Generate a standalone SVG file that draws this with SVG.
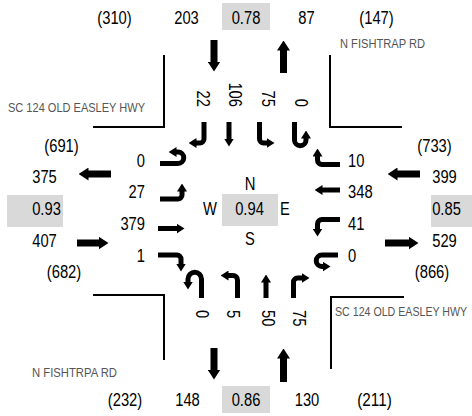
<svg xmlns="http://www.w3.org/2000/svg" width="472" height="416" viewBox="0 0 472 416">
<style>
.n{font-family:"Liberation Sans",Arial,sans-serif;font-size:18px;fill:#000;text-anchor:middle}
.ns{font-family:"Liberation Sans",Arial,sans-serif;font-size:18px;fill:#000;text-anchor:start}
.ne{font-family:"Liberation Sans",Arial,sans-serif;font-size:18px;fill:#000;text-anchor:end}
.st{font-family:"Liberation Sans",Arial,sans-serif;font-size:13.5px;fill:#555}
.box{fill:#d9d9d9}
.cl{fill:none;stroke:#000;stroke-width:2}
.big{fill:none;stroke:#000;stroke-width:7;marker-end:url(#hb)}
.ln{fill:none;stroke:#000;stroke-width:5;marker-end:url(#hl)}
</style>
<defs>
<marker id="hl" markerUnits="userSpaceOnUse" markerWidth="8" markerHeight="10" viewBox="0 0 8 10" refX="0.5" refY="5" orient="auto"><path d="M0,0 L8,5 L0,10 z" fill="#000"/></marker>
<marker id="hb" markerUnits="userSpaceOnUse" markerWidth="10" markerHeight="13" viewBox="0 0 10 13" refX="0.5" refY="6.5" orient="auto"><path d="M0,0 L10,6.5 L0,13 z" fill="#000"/></marker>
</defs>
<rect width="472" height="416" fill="#fff"/>

<g id="corners">
<path class="cl" d="M93,127 H164 V55"/>
<path class="cl" d="M330,55 V127 H402"/>
<path class="cl" d="M93,295 H164 V360"/>
<path class="cl" d="M404,297 H331 V369"/>
<text class="st" x="8" y="112" textLength="137" lengthAdjust="spacingAndGlyphs">SC 124 OLD EASLEY HWY</text>
<text class="st" x="340" y="48" textLength="85" lengthAdjust="spacingAndGlyphs">N FISHTRAP RD</text>
<text class="st" x="32" y="377" textLength="85" lengthAdjust="spacingAndGlyphs">N FISHTRPA RD</text>
<text class="st" transform="translate(335,316) scale(0.8,1)" style="font-size:13.3px">SC 124 OLD EASLEY HWY</text>
</g>

<g id="north">
<rect class="box" x="222" y="3" width="48" height="27"/>
<text class="n" x="114.5" y="24" textLength="34.5" lengthAdjust="spacingAndGlyphs">(310)</text>
<text class="n" x="186.5" y="24" textLength="24.6" lengthAdjust="spacingAndGlyphs">203</text>
<text class="n" x="246" y="24" textLength="28.7" lengthAdjust="spacingAndGlyphs">0.78</text>
<text class="n" x="306.5" y="24" textLength="16.4" lengthAdjust="spacingAndGlyphs">87</text>
<text class="n" x="376.5" y="24" textLength="34.5" lengthAdjust="spacingAndGlyphs">(147)</text>
<text class="ne" transform="translate(197,107) rotate(90)" textLength="16.4" lengthAdjust="spacingAndGlyphs">22</text>
<text class="ne" transform="translate(229,107) rotate(90)" textLength="24.6" lengthAdjust="spacingAndGlyphs">106</text>
<text class="ne" transform="translate(262,107) rotate(90)" textLength="16.4" lengthAdjust="spacingAndGlyphs">75</text>
<text class="ne" transform="translate(295,107) rotate(90)" textLength="8.2" lengthAdjust="spacingAndGlyphs">0</text>
</g>

<g id="south">
<rect class="box" x="222" y="386" width="48" height="27"/>
<text class="n" x="125" y="406" textLength="34.5" lengthAdjust="spacingAndGlyphs">(232)</text>
<text class="n" x="187.5" y="406" textLength="24.6" lengthAdjust="spacingAndGlyphs">148</text>
<text class="n" x="246" y="406" textLength="28.7" lengthAdjust="spacingAndGlyphs">0.86</text>
<text class="n" x="307" y="406" textLength="24.6" lengthAdjust="spacingAndGlyphs">130</text>
<text class="n" x="374.5" y="406" textLength="34.5" lengthAdjust="spacingAndGlyphs">(211)</text>
<text class="ns" transform="translate(196,310) rotate(90)" textLength="8.2" lengthAdjust="spacingAndGlyphs">0</text>
<text class="ns" transform="translate(227,310) rotate(90)" textLength="8.2" lengthAdjust="spacingAndGlyphs">5</text>
<text class="ns" transform="translate(262,310) rotate(90)" textLength="16.4" lengthAdjust="spacingAndGlyphs">50</text>
<text class="ns" transform="translate(293,310) rotate(90)" textLength="16.4" lengthAdjust="spacingAndGlyphs">75</text>
</g>

<g id="west">
<rect class="box" x="7" y="195" width="56" height="32"/>
<text class="n" x="61.5" y="152" textLength="34.5" lengthAdjust="spacingAndGlyphs">(691)</text>
<text class="n" x="44.5" y="183" textLength="24.6" lengthAdjust="spacingAndGlyphs">375</text>
<text class="n" x="46.5" y="215" textLength="28.7" lengthAdjust="spacingAndGlyphs">0.93</text>
<text class="n" x="44.5" y="247" textLength="24.6" lengthAdjust="spacingAndGlyphs">407</text>
<text class="n" x="64" y="278" textLength="34.5" lengthAdjust="spacingAndGlyphs">(682)</text>
<text class="ne" x="145" y="167" textLength="8.2" lengthAdjust="spacingAndGlyphs">0</text>
<text class="ne" x="145" y="198" textLength="16.4" lengthAdjust="spacingAndGlyphs">27</text>
<text class="ne" x="145" y="230" textLength="24.6" lengthAdjust="spacingAndGlyphs">379</text>
<text class="ne" x="145" y="262" textLength="8.2" lengthAdjust="spacingAndGlyphs">1</text>
</g>

<g id="east">
<rect class="box" x="431" y="195" width="41" height="32"/>
<text class="n" x="434.5" y="152" textLength="34.5" lengthAdjust="spacingAndGlyphs">(733)</text>
<text class="n" x="444.5" y="183" textLength="24.6" lengthAdjust="spacingAndGlyphs">399</text>
<text class="n" x="446.5" y="215" textLength="28.7" lengthAdjust="spacingAndGlyphs">0.85</text>
<text class="n" x="444.5" y="247" textLength="24.6" lengthAdjust="spacingAndGlyphs">529</text>
<text class="n" x="432" y="278" textLength="34.5" lengthAdjust="spacingAndGlyphs">(866)</text>
<text class="ns" x="348" y="167" textLength="16.4" lengthAdjust="spacingAndGlyphs">10</text>
<text class="ns" x="348" y="198" textLength="24.6" lengthAdjust="spacingAndGlyphs">348</text>
<text class="ns" x="348" y="230" textLength="16.4" lengthAdjust="spacingAndGlyphs">41</text>
<text class="ns" x="348" y="262" textLength="8.2" lengthAdjust="spacingAndGlyphs">0</text>
</g>

<g id="center">
<rect class="box" x="222" y="194" width="56" height="32"/>
<text class="n" x="250" y="190" textLength="10.7" lengthAdjust="spacingAndGlyphs">N</text>
<text class="n" x="210" y="215" textLength="13.9" lengthAdjust="spacingAndGlyphs">W</text>
<text class="n" x="249.5" y="215" textLength="28.7" lengthAdjust="spacingAndGlyphs">0.94</text>
<text class="n" x="285" y="215" textLength="9.8" lengthAdjust="spacingAndGlyphs">E</text>
<text class="n" x="250" y="245" textLength="9.8" lengthAdjust="spacingAndGlyphs">S</text>
</g>

<g id="connectors">
<path class="big" d="M214,40 V62"/>
<path class="big" d="M283.5,73 V50"/>
<path class="big" d="M111,174 H88"/>
<path class="big" d="M77,243 H99"/>
<path class="big" d="M420,174 H397"/>
<path class="big" d="M385,243 H409"/>
<path class="big" d="M214,348 V370"/>
<path class="big" d="M283.5,382 V358"/>

<path class="ln" d="M160,163.5 H178 A5.75,5.75 0 0 0 178,152 H176"/>
<path class="ln" d="M160,199 H178 A4,4 0 0 0 182,195 V191"/>
<path class="ln" d="M158,228.5 H177"/>
<path class="ln" d="M158,255 H177 A4,4 0 0 1 181,259 V264"/>

<path class="ln" d="M204,122 V139 A4,4 0 0 1 200,143 H196"/>
<path class="ln" d="M229,122 V139"/>
<path class="ln" d="M259.5,122 V139 A4,4 0 0 0 263.5,143 H267"/>
<path class="ln" d="M294.5,122 V140 A5.75,5.75 0 0 0 306,140 V138"/>

<path class="ln" d="M340,164.5 H322 A4.5,4.5 0 0 1 317.5,160 V156"/>
<path class="ln" d="M340,190 H322"/>
<path class="ln" d="M340,219.5 H322 A4.5,4.5 0 0 0 317.5,224 V229"/>
<path class="ln" d="M338,255 H322 A5.75,5.75 0 0 0 322,266.5 H323"/>

<path class="ln" d="M201.5,298 V279 A6.75,6.75 0 0 0 188,279 V282"/>
<path class="ln" d="M237.5,298 V280 A4.5,4.5 0 0 0 233,275.5 H228"/>
<path class="ln" d="M266,298 V282"/>
<path class="ln" d="M293.5,298 V282 A4,4 0 0 1 297.5,278 H302"/>
</g>
</svg>
